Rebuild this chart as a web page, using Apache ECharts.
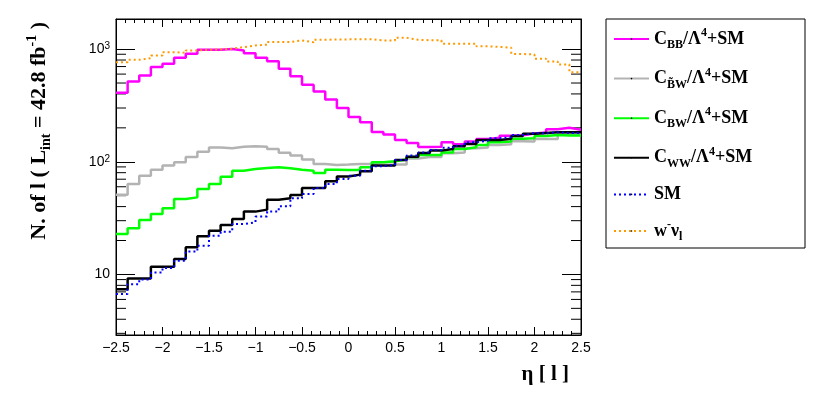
<!DOCTYPE html>
<html>
<head>
<meta charset="utf-8">
<script src="https://cdn.jsdelivr.net/npm/echarts@6/dist/echarts.min.js"></script>
<style>
  html, body { margin: 0; padding: 0; background: #fff; }
  #main { width: 830px; height: 396px; }
</style>
</head>
<body>
<div id="main"></div>
<script>
  // bin edges in eta (40 bins, width 0.125)
  const binEdges = [-2.5, -2.375, -2.25, -2.125, -2, -1.875, -1.75, -1.625, -1.5, -1.375,
    -1.25, -1.125, -1, -0.875, -0.75, -0.625, -0.5, -0.375, -0.25, -0.125,
    0, 0.125, 0.25, 0.375, 0.5, 0.625, 0.75, 0.875, 1, 1.125,
    1.25, 1.375, 1.5, 1.625, 1.75, 1.875, 2, 2.125, 2.25, 2.375, 2.5]

  const cBB = [409, 516, 584, 692, 741, 837, 909, 987, 987, 1000, 973, 921, 837, 782, 668, 575, 482, 421, 357, 300,
    250, 224, 184, 175, 156, 147, 135, 136, 149, 143, 151, 159, 163, 170, 172, 178, 182, 194, 200, 192]
  const cBtW = [51, 63.5, 75, 85, 92.5, 99, 110, 123, 134, 132, 136, 137, 136, 130, 120, 113.5, 104.5, 95.7, 93.8, 94.5,
    95.7, 95.7, 99, 99, 94.5, 107, 110, 110, 119, 121, 132, 134, 141, 143, 152, 151, 159, 159, 176, 176]
  const cBW = [22.8, 25.7, 30.4, 34.4, 38.6, 46.8, 48.3, 57.4, 63.6, 73.8, 83.4, 86.3, 88.1, 89.3, 87.5, 85.1, 83.4, 79.5, 85.1, 84.5,
    84.5, 89.3, 99, 101, 104.5, 110, 115, 115, 121, 130, 134.6, 141, 149, 151, 160, 162, 169, 173, 171, 171]
  const cWW = [7.4, 9.2, 9.2, 11.7, 11.7, 13.7, 17.4, 21.8, 24.4, 27.5, 31.1, 36.1, 37.6, 46.1, 47.4, 50.7, 58.5, 58.5, 67.1, 73.9,
    76.9, 82.4, 92.5, 92.5, 103.8, 111, 119.8, 125.6, 130, 137, 144, 156, 156, 160, 169, 177, 180, 183, 183, 183]
  const sm = [6.7, 8.2, 9.0, 10.4, 11.4, 13.2, 16.0, 18.0, 22.1, 23.9, 28, 29, 32.6, 36.1, 40.2, 47.4, 51.8, 58.5, 63.5, 70.4,
    75.3, 83.4, 91.2, 93.7, 103.8, 113.5, 121, 127, 133, 139, 149, 154, 162, 165, 173, 180, 179, 183, 180, 180]
  const wlnu = [766, 803, 832, 879, 940, 927, 973, 987, 993, 1007, 1042, 1078, 1094, 1154, 1154, 1195, 1150, 1210, 1218, 1220,
    1222, 1220, 1195, 1190, 1260, 1210, 1200, 1198, 1118, 1118, 1118, 1060, 1045, 1030, 905, 895, 823, 778, 730, 623]

  const seriesNames = ['C_BB', 'C_BtW', 'C_BW', 'C_WW', 'SM', 'wlnu']
  const legendLabels = {
    C_BB: '{b|C}{sub|BB}{b|/Λ}{sup|4}{b|+SM}',
    C_BtW: '{b|C}{sub|B\u0303W}{b|/Λ}{sup|4}{b|+SM}',
    C_BW: '{b|C}{sub|BW}{b|/Λ}{sup|4}{b|+SM}',
    C_WW: '{b|C}{sub|WW}{b|/Λ}{sup|4}{b|+SM}',
    SM: '{b|SM}',
    wlnu: '{b|w}{sup|-}{b|ν}{sub|l}'
  }
  const yMinorTicks = [3, 4, 5, 6, 7, 8, 9, 20, 30, 40, 50, 60, 70, 80, 90, 200, 300, 400, 500, 600, 700, 800, 900]

  const serif = 'Liberation Serif'
  const sans = 'Liberation Sans'

  function histData(values) {
    let out = []
    for (let i = 0; i < values.length; i++) {
      out.push([binEdges[i], values[i]])
    }
    out.push([binEdges[binEdges.length - 1], values[values.length - 1]])
    return out
  }

  function histSeries(name, values, color, width, type) {
    return {
      name: name,
      type: 'line',
      step: 'end',
      symbol: 'none',
      data: histData(values),
      lineStyle: { color: color, width: width, type: type || 'solid' },
      itemStyle: { color: '#000' },
      animation: false
    }
  }

  const xAxisBase = {
    type: 'value',
    min: -2.5,
    max: 2.5,
    interval: 0.5,
    splitLine: { show: false },
    axisLine: { onZero: false, lineStyle: { color: '#000', width: 1 } },
    axisTick: { inside: true, length: 8, lineStyle: { color: '#000' } },
    minorTick: { show: true, splitNumber: 5, length: 4, lineStyle: { color: '#000' } }
  }
  const yAxisBase = {
    type: 'log',
    min: 2.9,
    max: 1850,
    splitLine: { show: false },
    axisLine: { onZero: false, lineStyle: { color: '#000', width: 1 } },
    axisTick: { inside: true, length: 19, lineStyle: { color: '#000' } }
  }

  const chart = echarts.init(document.getElementById('main'))
  chart.setOption({
    backgroundColor: '#fff',
    animation: false,
    grid: {
      left: 116, top: 19, width: 465, height: 316,
      show: true, borderColor: '#000', borderWidth: 1
    },
    legend: {
      orient: 'vertical',
      left: 613,
      top: 27,
      padding: 0,
      itemWidth: 35,
      itemHeight: 2,
      itemGap: 15.6,
      data: seriesNames,
      formatter: function(name) {
        return legendLabels[name]
      },
      textStyle: {
        rich: {
          b: { fontFamily: serif, fontWeight: 'bold', fontSize: 18, lineHeight: 24, color: '#000' },
          sub: { fontFamily: serif, fontWeight: 'bold', fontSize: 12, lineHeight: 14, verticalAlign: 'bottom', color: '#000' },
          sup: { fontFamily: serif, fontWeight: 'bold', fontSize: 12, lineHeight: 10, verticalAlign: 'top', color: '#000' }
        }
      }
    },
    xAxis: [
      Object.assign({}, xAxisBase, {
        position: 'bottom',
        axisLabel: {
          margin: 6,
          fontFamily: sans,
          fontSize: 14,
          color: '#000',
          formatter: function(v) {
            return String(v).replace('-', '\u2212')
          }
        }
      }),
      Object.assign({}, xAxisBase, {
        position: 'top',
        axisLabel: { show: false }
      })
    ],
    yAxis: [
      Object.assign({}, yAxisBase, {
        position: 'left',
        axisLabel: {
          margin: 6,
          formatter: function(v) {
            let e = Math.log10(v)
            if (Math.abs(e - Math.round(e)) > 1e-6) return ''
            e = Math.round(e)
            if (e === 1) return '{n|10}'
            return '{n|10}{sup|' + e + '}'
          },
          rich: {
            n: { fontFamily: sans, fontSize: 14, lineHeight: 16, color: '#000' },
            sup: { fontFamily: sans, fontSize: 10, lineHeight: 10, verticalAlign: 'top', color: '#000' }
          }
        }
      }),
      Object.assign({}, yAxisBase, {
        position: 'right',
        axisLabel: { show: false }
      })
    ],
    graphic: [
      {
        type: 'rect',
        shape: { x: 606, y: 19, width: 199, height: 229 },
        style: { fill: 'none', stroke: '#000', lineWidth: 1 }
      },
      {
        type: 'text',
        x: 39,
        y: 22,
        rotation: Math.PI / 2,
        style: {
          text: '{t|N. of l ( L}{sub|int}{t| = 42.8 fb}{sup|-1}{t| )}',
          align: 'right',
          verticalAlign: 'middle',
          rich: {
            t: { fontFamily: serif, fontWeight: 'bold', fontSize: 22, lineHeight: 28, fill: '#000' },
            sub: { fontFamily: serif, fontWeight: 'bold', fontSize: 14, lineHeight: 15, verticalAlign: 'bottom', fill: '#000' },
            sup: { fontFamily: serif, fontWeight: 'bold', fontSize: 14, lineHeight: 13, verticalAlign: 'top', fill: '#000' }
          }
        }
      },
      {
        type: 'text',
        x: 569,
        y: 375,
        style: {
          text: 'η [ l ]',
          align: 'right',
          verticalAlign: 'middle',
          fontFamily: serif,
          fontWeight: 'bold',
          fontSize: 21,
          fill: '#000'
        }
      }
    ],
    series: [
      histSeries('C_BB', cBB, '#ff00ff', 2.5),
      histSeries('C_BtW', cBtW, '#b3b3b3', 2.5),
      histSeries('C_BW', cBW, '#00ff00', 2.5),
      histSeries('C_WW', cWW, '#000000', 2.5),
      histSeries('SM', sm, '#0000ff', 2, [2, 3]),
      histSeries('wlnu', wlnu, '#ff9900', 2, [2, 3]),
      {
        name: 'minorTicks',
        type: 'custom',
        silent: true,
        animation: false,
        data: yMinorTicks.map(function(v) { return [-2.5, v] }),
        encode: { x: 0, y: 1 },
        renderItem: function(params, api) {
          let y = api.coord([-2.5, api.value(1)])[1]
          let left = params.coordSys.x
          let right = left + params.coordSys.width
          return {
            type: 'group',
            children: [
              { type: 'line', shape: { x1: left, y1: y, x2: left + 10, y2: y }, style: { stroke: '#000', lineWidth: 1 } },
              { type: 'line', shape: { x1: right - 10, y1: y, x2: right, y2: y }, style: { stroke: '#000', lineWidth: 1 } }
            ]
          }
        }
      }
    ]
  })
</script>
</body>
</html>
